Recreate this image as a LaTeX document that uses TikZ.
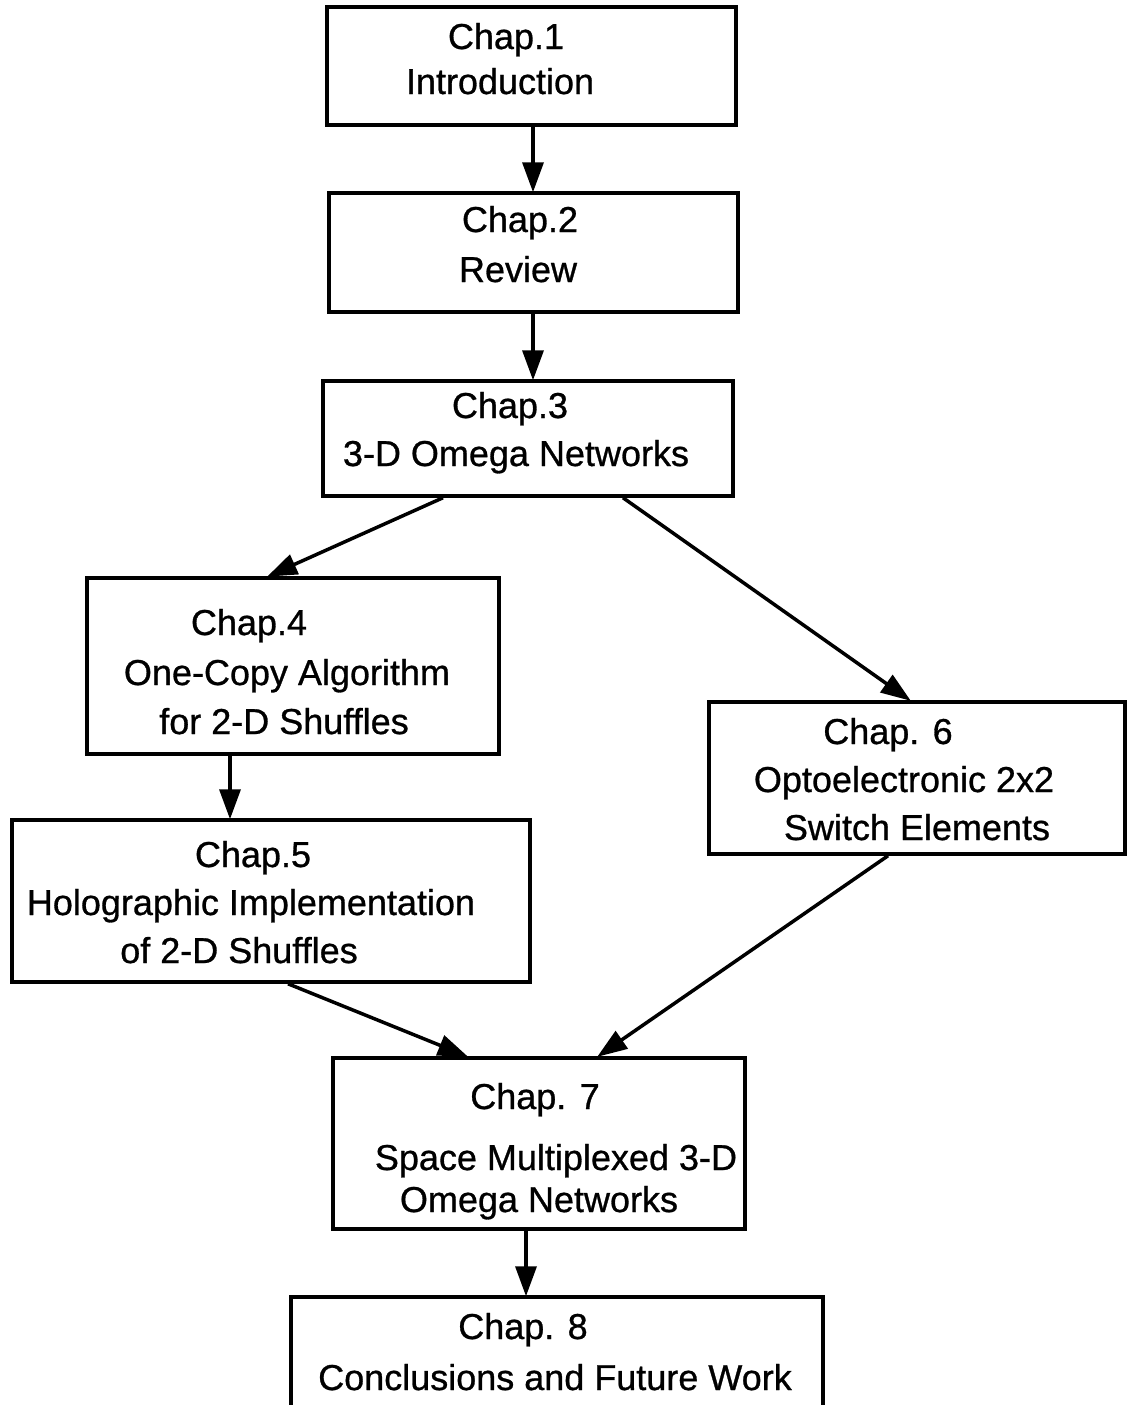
\documentclass[tikz,border=0pt]{standalone}
\usepackage{fontspec}
\setmainfont{Liberation Sans}
\newfontfamily\chapfont{Liberation Sans}[FakeBold=0.8]
\usetikzlibrary{arrows.meta}
\tikzset{
  chapbox/.style={draw, line width=3.5pt, inner sep=0pt, minimum width=#1},
  lbl/.style={anchor=base, inner sep=0pt, font=\chapfont\fontsize{36}{40}\selectfont},
  flow/.style={line width=3.5pt, -{Triangle[length=30pt, width=21pt]}, shorten >=-1pt}
}
\begin{document}
\begin{tikzpicture}[x=1pt, y=-1pt]
\useasboundingbox (0,0) rectangle (1129,1405);
\clip (0,0) rectangle (1129,1405);

% chapter boxes
\node[chapbox=409pt, minimum height=118pt] (b1) at (531.5,66) {};
\node[chapbox=409pt, minimum height=119pt] (b2) at (533.5,252.5) {};
\node[chapbox=410pt, minimum height=115pt] (b3) at (528,438.5) {};
\node[chapbox=412pt, minimum height=176pt] (b4) at (293,666) {};
\node[chapbox=518pt, minimum height=162pt] (b5) at (271,901) {};
\node[chapbox=416pt, minimum height=152pt] (b6) at (917,778) {};
\node[chapbox=412pt, minimum height=171pt] (b7) at (539,1143.5) {};
\node[chapbox=532pt, minimum height=150pt] (b8) at (557,1372) {};

% box texts, one line each
\node[lbl] (t1a) at (506,49) {Chap.1};
\node[lbl] (t1b) at (500,94) {Introduction};
\node[lbl] (t2a) at (520,232) {Chap.2};
\node[lbl] (t2b) at (518,282) {Review};
\node[lbl] (t3a) at (510,418) {Chap.3};
\node[lbl] (t3b) at (516,466) {3-D Omega Networks};
\node[lbl] (t4a) at (249,635) {Chap.4};
\node[lbl] (t4b) at (287,685) {One-Copy Algorithm};
\node[lbl] (t4c) at (284,734) {for 2-D Shuffles};
\node[lbl] (t5a) at (253,867) {Chap.5};
\node[lbl] (t5b) at (251,915) {Holographic Implementation};
\node[lbl] (t5c) at (239,963) {of 2-D Shuffles};
\node[lbl] (t6a) at (888,744) {Chap. 6};
\node[lbl] (t6b) at (904,792) {Optoelectronic 2x2};
\node[lbl] (t6c) at (917,840) {Switch Elements};
\node[lbl] (t7a) at (535,1109) {Chap. 7};
\node[lbl] (t7b) at (556,1170) {Space Multiplexed 3-D};
\node[lbl] (t7c) at (539,1212) {Omega Networks};
\node[lbl] (t8a) at (523,1339) {Chap. 8};
\node[lbl] (t8b) at (555,1390) {Conclusions and Future Work};

% connectors
\draw[flow] ([xshift=1.5pt]b1.south) -- ([xshift=-0.5pt]b2.north);
\draw[flow] ([xshift=-0.5pt]b2.south) -- ([xshift=5pt]b3.north);
\draw[flow] ([xshift=-85pt]b3.south) -- ([xshift=-25pt]b4.north);
\draw[flow] ([xshift=95pt]b3.south) -- ([xshift=-7pt]b6.north);
\draw[flow] ([xshift=-63pt]b4.south) -- ([xshift=-41pt]b5.north);
\draw[flow] ([xshift=17pt]b5.south) -- ([xshift=-72pt]b7.north);
\draw[flow] ([xshift=-29pt]b6.south) -- ([xshift=59pt]b7.north);
\draw[flow] ([xshift=-13pt]b7.south) -- ([xshift=-31pt]b8.north);
\end{tikzpicture}
\end{document}
